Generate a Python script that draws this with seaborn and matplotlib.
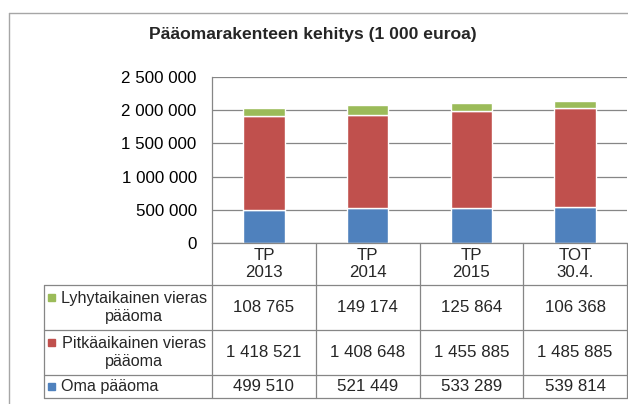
import pandas as pd
import matplotlib.pyplot as plt
import seaborn as sns
from matplotlib.lines import Line2D
from matplotlib.patches import Rectangle

kaudet = ['TP\n2013', 'TP\n2014', 'TP\n2015', 'TOT\n30.4.']
oma = [499510, 521449, 533289, 539814]
pitka = [1418521, 1408648, 1455885, 1485885]
lyhyt = [108765, 149174, 125864, 106368]
sarjat = ['Lyhytaikainen vieras\npääoma', 'Pitkäaikainen vieras\npääoma', 'Oma pääoma']
varit = ['#9BBB59', '#C0504D', '#4F81BD']

df = pd.DataFrame({'Kausi': kaudet, 'Oma': oma, 'Pitka': pitka, 'Lyhyt': lyhyt})
df['Pohja'] = df['Oma'] + df['Pitka']

sns.set_theme(style='white')
plt.rcParams['font.family'] = ['Liberation Sans', 'DejaVu Sans']

W, H = 628, 404
fig = plt.figure(figsize=(W / 100, H / 100), dpi=100)


def fx(px):
    return px / W


def fy(py):
    return 1 - py / H


harmaa = '#868686'
fs = 12.2

ax = fig.add_axes([fx(212), fy(243), fx(627) - fx(212), fy(77) - fy(243)])
sns.barplot(x='Kausi', y='Oma', data=df, order=kaudet, color=varit[2],
            saturation=1, width=0.4, ax=ax)
sns.barplot(x='Kausi', y='Pitka', data=df, order=kaudet, color=varit[1],
            saturation=1, width=0.4, bottom=df['Oma'].values, ax=ax)
sns.barplot(x='Kausi', y='Lyhyt', data=df, order=kaudet, color=varit[0],
            saturation=1, width=0.4, bottom=df['Pohja'].values, ax=ax)

ax.set_xlim(-0.5, len(kaudet) - 0.5)
ax.set_ylim(0, 2500000)
ax.set_yticks(range(0, 2500001, 500000))
ax.set_yticklabels([f'{v:,}'.replace(',', ' ') for v in range(0, 2500001, 500000)],
                   fontsize=fs, color='black')
ax.tick_params(axis='y', length=0, pad=11)
ax.tick_params(axis='x', length=0, labelbottom=False)
ax.set_xlabel('')
ax.set_ylabel('')
ax.yaxis.grid(True, color=harmaa, lw=0.9)
ax.set_axisbelow(True)
for s in ['top', 'right']:
    ax.spines[s].set_visible(False)
for s in ['left', 'bottom']:
    ax.spines[s].set_color(harmaa)
    ax.spines[s].set_linewidth(0.9)

fig.text(fx(313), fy(35), 'Pääomarakenteen kehitys (1 000 euroa)', ha='center',
         va='center', fontsize=12.6, fontweight='bold')

# ulkokehys
fig.add_artist(Line2D([fx(9), fx(9)], [fy(13), fy(404)], color='#A6A6A6', lw=1))
fig.add_artist(Line2D([fx(9), fx(628)], [fy(13), fy(13)], color='#A6A6A6', lw=1))

# taulukko
to_fig = ax.transData + fig.transFigure.inverted()
rajat = [to_fig.transform((i - 0.5, 0))[0] for i in range(len(kaudet) + 1)]
keskit = [to_fig.transform((i, 0))[0] for i in range(len(kaudet))]
rivit = [243, 285, 330, 375, 398]
vasen = fx(44)

for x in rajat:
    fig.add_artist(Line2D([x, x], [fy(rivit[0]), fy(rivit[-1])], color=harmaa, lw=0.9))
fig.add_artist(Line2D([vasen, vasen], [fy(rivit[1]), fy(rivit[-1])], color=harmaa, lw=0.9))
for y in rivit[1:]:
    fig.add_artist(Line2D([vasen, rajat[-1]], [fy(y), fy(y)], color=harmaa, lw=0.9))

for x, k in zip(keskit, kaudet):
    fig.text(x, fy((rivit[0] + rivit[1]) / 2), k, ha='center', va='center',
             fontsize=fs, linespacing=1.2, multialignment='center')

arvot = [lyhyt, pitka, oma]
for r, (nimi, vari, rivi) in enumerate(zip(sarjat, varit, arvot)):
    yc = fy((rivit[r + 1] + rivit[r + 2]) / 2)
    if '\n' in nimi:
        fig.text(fx(134), yc, nimi, ha='center', va='center', fontsize=11.6,
                 linespacing=1.2, multialignment='center')
        my = fy((rivit[r + 1] + rivit[r + 2]) / 2 - 10)
    else:
        fig.text(fx(61), yc, nimi, ha='left', va='center', fontsize=11.6)
        my = yc
    fig.add_artist(Rectangle((fx(48), my - 3.5 / H), 7 / W, 7 / H, color=vari,
                             transform=fig.transFigure))
    for x, v in zip(keskit, rivi):
        fig.text(x, yc, f'{v:,}'.replace(',', ' '), ha='center', va='center', fontsize=fs)

fig.savefig('out.png', dpi=100)
